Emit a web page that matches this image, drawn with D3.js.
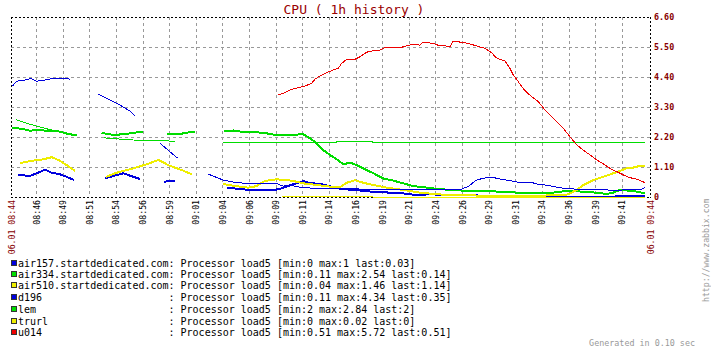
<!DOCTYPE html>
<html><head><meta charset="utf-8">
<script src="https://cdn.jsdelivr.net/npm/d3@7"></script>
<style>html,body{margin:0;padding:0;background:#fff;overflow:hidden}svg{display:block}</style>
</head><body><svg id="c" width="711" height="351"></svg>
<script>
// ---------- data (time = minutes after 08:44:19, null = gap in data) ----------
const seriesNames = ["air157.startdedicated.com","air334.startdedicated.com","air510.startdedicated.com","d196","lem","trurl","u014"];
const seriesItem = "Processor load5";
const seriesMin  = ["0","0.11","0.04","0.11","2","0","0.51"];
const seriesMax  = ["1","2.54","1.46","4.34","2.84","0.02","5.72"];
const seriesLast = ["0.03","0.14","1.14","0.35","2","0","0.51"];

const air157 = [
 [0.69,0.81],[1.78,0.77],[2.41,0.87],[3.19,1.00],[3.82,0.89],[4.60,0.83],[5.23,0.74],[5.92,0.62],
 null,
 [8.83,0.69],[9.61,0.77],[10.54,0.87],[11.48,0.74],[12.11,0.66],
 null,
 [14.39,0.56],[15.40,0.60],
 null,
 [20.25,0.33],[21.50,0.30],[22.44,0.25],[24.63,0.25],[25.26,0.30],[26.20,0.43],[27.14,0.55],[27.45,0.58],[28.08,0.51],[29.02,0.48],[29.95,0.39],[30.89,0.30],[32.14,0.26],[34.02,0.19],[35.59,0.16],[36.84,0.13],[38.09,0.07],[39.34,0.10],[40.91,0.07],[43.10,0.07],[44.98,0.03],[48.73,0.03],[51.24,0.01],[52.50,0],[55.93,0],[57.18,0.03],[58.12,0.04],[59.53,0.03]
];
const air334 = [
 [0.07,2.54],[0.54,2.52],[1.15,2.49],[1.78,2.43],[2.41,2.46],[3.35,2.43],[4.29,2.42],[4.91,2.36],[5.38,2.31],[6.17,2.26],
 null,
 [8.52,2.36],[8.99,2.31],[9.77,2.27],[10.54,2.31],[11.17,2.33],[11.80,2.37],[12.42,2.40],
 null,
 [14.62,2.31],[15.87,2.31],[16.50,2.36],[17.28,2.40],
 null,
 [20.00,2.40],[20.87,2.44],[21.50,2.40],[22.75,2.37],[23.69,2.36],[24.32,2.31],[24.95,2.27],[26.20,2.28],[27.45,2.30],[28.08,2.15],[28.70,1.97],[29.32,1.72],[29.95,1.54],[30.58,1.38],[31.20,1.20],[31.83,1.26],[32.46,1.17],[33.08,1.05],[34.02,0.87],[34.96,0.68],[35.90,0.60],[36.84,0.50],[37.77,0.40],[38.71,0.36],[39.97,0.30],[41.22,0.26],[43.10,0.22],[44.04,0.22],[44.98,0.21],[46.23,0.19],[47.48,0.16],[48.73,0.16],[49.67,0.13],[50.92,0.16],[51.86,0.21],[53.12,0.21],[54.06,0.18],[54.99,0.16],[55.93,0.11],[56.55,0.16],[57.18,0.26],[58.43,0.22],[59.53,0.14]
];
const air510 = [
 [0.85,1.24],[1.78,1.32],[3.03,1.38],[3.82,1.46],[4.44,1.36],[5.23,1.17],[6.01,0.96],
 null,
 [8.92,0.74],[9.92,0.89],[11.48,1.05],[12.74,1.20],[13.83,1.36],[14.93,1.14],[16.03,0.99],[16.97,0.83],
 null,
 [19.93,0.48],[20.56,0.43],[21.50,0.38],[22.28,0.34],[23.07,0.40],[23.69,0.56],[24.32,0.62],[24.95,0.65],[26.36,0.60],[27.45,0.50],[28.70,0.44],[29.95,0.38],[30.89,0.36],[31.52,0.52],[32.30,0.62],[33.08,0.52],[34.02,0.44],[35.28,0.34],[36.84,0.26],[38.56,0.15],[39.81,0.11],[40.75,0.08],[42.32,0.08],[43.88,0.05],[45.45,0.05],[48.73,0.05],[52.02,0.06],[52.49,0.13],[53.12,0.26],[53.74,0.44],[54.68,0.62],[55.62,0.74],[56.55,0.87],[57.18,0.96],[57.81,1.05],[58.43,1.08],[59.06,1.14],[59.53,1.14]
];
const d196 = [
 [0.16,4.07],[0.38,4.19],[0.69,4.26],[1.31,4.29],[1.78,4.34],[1.94,4.33],[2.35,4.25],[2.88,4.26],[3.50,4.32],[4.13,4.34],[5.23,4.34],[5.54,4.32],
 null,
 [8.20,3.77],[9.30,3.56],[10.23,3.37],[11.17,3.15],[11.64,2.98],
 null,
 [13.99,1.97],[14.74,1.72],[15.65,1.42],
 null,
 [18.53,0.84],[19.15,0.74],[19.93,0.62],[20.85,0.55],[21.50,0.52],[22.28,0.49],[24.98,0.49],[25.54,0.40],[26.20,0.43],[27.14,0.36],[29.02,0.30],[31.36,0.33],[33.87,0.26],[36.06,0.26],[37.62,0.27],[38.87,0.29],[40.12,0.28],[42.32,0.29],[42.94,0.39],[43.57,0.58],[43.88,0.64],[44.51,0.70],[45.45,0.70],[45.92,0.66],[46.85,0.60],[47.48,0.55],[48.10,0.52],[48.73,0.55],[49.36,0.48],[50.30,0.43],[51.24,0.36],[52.18,0.30],[53.12,0.29],[54.06,0.26],[54.99,0.28],[55.93,0.26],[56.87,0.23],[57.49,0.26],[58.75,0.27],[59.37,0.30],[59.53,0.35]
];
const lem = [
 [0.47,2.84],[1.47,2.70],[2.41,2.60],[3.35,2.50],[4.29,2.42],[5.23,2.33],[6.17,2.26],
 null,
 [8.76,2.17],[9.61,2.14],[11.48,2.09],[13.36,2.06],[15.40,2.05],
 null,
 [19.93,2.00],[30.52,2.00],[30.70,2.05],[33.87,2.05],[33.99,2.00],[59.53,2.00]
];
const trurl = [[25.45,0.02],[33.90,0.02],[33.99,0],[59.53,0]];
const u014 = [
 [25.10,3.74],[25.57,3.80],[26.04,3.90],[26.51,3.96],[27.14,4.02],[27.61,4.07],[28.23,4.17],[28.54,4.32],[29.01,4.44],[29.64,4.56],[30.26,4.66],[30.73,4.72],[31.05,4.90],[31.52,5.05],[32.30,5.05],[32.77,5.14],[33.40,5.31],[34.02,5.36],[34.65,5.39],[35.12,5.49],[36.69,5.49],[37.16,5.55],[37.77,5.60],[38.40,5.57],[38.66,5.66],[39.65,5.64],[40.12,5.56],[40.59,5.56],[41.22,5.51],[41.53,5.72],[42.16,5.68],[42.79,5.64],[43.10,5.61],[43.72,5.54],[44.51,5.45],[45.14,5.29],[45.54,5.11],[45.92,5.05],[46.38,4.99],[46.85,4.72],[47.16,4.47],[47.48,4.32],[47.79,4.14],[48.26,3.90],[48.57,3.78],[49.04,3.64],[49.51,3.50],[49.83,3.34],[50.14,3.19],[50.61,3.01],[51.24,2.77],[51.86,2.52],[52.49,2.21],[53.12,1.91],[53.74,1.72],[54.37,1.54],[54.99,1.36],[55.62,1.21],[56.24,1.05],[56.87,0.93],[57.49,0.81],[58.12,0.71],[58.75,0.65],[59.37,0.56],[59.53,0.51]
];

const yTickValues = [0,1.1,2.2,3.3,4.4,5.5,6.6];
const yTickLabels = ["0","1.10","2.20","3.30","4.40","5.50","6.60"];
const xTickLabels = ["08:46","08:49","08:51","08:54","08:56","08:59","09:01","09:04","09:06","09:09","09:11","09:14","09:16","09:19","09:21","09:24","09:26","09:29","09:31","09:34","09:36","09:39","09:41"];
const xFirstTick = 2.35, xTickStep = 2.5; // minutes
const startLabel = "06.01 08:44", endLabel = "06.01 09:44";
const titleText = "CPU ( 1h history )";

// ---------- styles ----------
const seriesData = [air157, air334, air510, d196, lem, trurl, u014];
const seriesColors = ["#0000dd","#00dd00","#eeee00","#0000dd","#00dd00","#eeee00","#ee0000"];
const seriesWidth = [2,2,2,1,1,1,1];
const MONO = "'DejaVu Sans Mono', 'Liberation Mono', monospace";
const DARKRED = "#880000";

const svg = d3.select("#c");
svg.append("rect").attr("width",711).attr("height",351).attr("fill","#fff");

const x = d3.scaleLinear().domain([0,60]).range([11,650]);
const y = d3.scaleLinear().domain([0,6.6]).range([197,17]);
const px = v => Math.round(v) + 0.5;

// grid
const g = svg.append("g").attr("shape-rendering","crispEdges");
yTickValues.slice(1,-1).forEach(v => {
  g.append("line").attr("x1",x(0)).attr("x2",x(60)).attr("y1",px(y(v))).attr("y2",px(y(v)))
   .attr("stroke","#999").attr("stroke-dasharray","3,3");
});
xTickLabels.forEach((l,i) => {
  const xv = px(x(xFirstTick + i*xTickStep));
  g.append("line").attr("x1",xv).attr("x2",xv).attr("y1",y(6.6)).attr("y2",y(0))
   .attr("stroke","#999").attr("stroke-dasharray","3,3");
});
// frame (dotted)
const fr = [[x(0),y(6.6),x(60),y(6.6)],[x(0),y(0),x(60),y(0)],[x(0),y(6.6),x(0),y(0)],[x(60),y(6.6),x(60),y(0)]];
fr.forEach(f => {
  const horiz = f[1]===f[3];
  g.append("line")
   .attr("x1",horiz?f[0]:px(f[0])).attr("x2",horiz?f[2]+1:px(f[2]))
   .attr("y1",horiz?px(f[1]):f[1]).attr("y2",horiz?px(f[3]):f[3]+1)
   .attr("stroke","#000").attr("stroke-dasharray","2,2");
});

// series lines
const line = d3.line().defined(d => d !== null).x(d => x(d[0])).y(d => y(d[1]));
seriesData.forEach((data,i) => {
  svg.append("path").datum(data).attr("d",line)
    .attr("fill","none").attr("stroke",seriesColors[i]).attr("stroke-width",seriesWidth[i])
    .attr("shape-rendering","crispEdges").attr("stroke-linejoin","round");
});

// title
svg.append("text").attr("x",354).attr("y",14).attr("text-anchor","middle")
  .attr("font-family",MONO).attr("font-size",13).attr("fill","#990000").text(titleText);

// y labels
yTickValues.forEach((v,i) => {
  svg.append("text").attr("x",654).attr("y",y(v)).attr("dominant-baseline","central")
    .attr("font-family",MONO).attr("font-size",8.4).attr("font-weight","bold").attr("fill",DARKRED)
    .text(yTickLabels[i]);
});

// x labels (rotated)
function vlabel(xpos, ypos, txt, color, anchor, size) {
  svg.append("text").attr("transform",`translate(${xpos},${ypos}) rotate(-90)`)
    .attr("text-anchor",anchor).attr("dominant-baseline","central")
    .attr("font-family",MONO).attr("font-size",size).attr("fill",color).text(txt);
}
xTickLabels.forEach((l,i) => vlabel(x(xFirstTick + i*xTickStep)+0.5, 200, l, "#000", "end", 8.2));
vlabel(x(0)+0.5, 200, startLabel, DARKRED, "end", 8.2);
vlabel(x(60)+0.5, 200, endLabel, DARKRED, "end", 8.2);
vlabel(706, 302, "http://www.zabbix.com", "#999", "start", 8.2);

// legend
const rowY = [263, 274, 285, 297, 309, 321, 332];
const padLen = d3.max(seriesNames, s => s.length);
seriesNames.forEach((n,i) => {
  svg.append("rect").attr("x",11.5).attr("y",rowY[i]-2.5).attr("width",5).attr("height",5)
    .attr("fill",seriesColors[i]).attr("stroke","#333").attr("stroke-width",1).attr("shape-rendering","crispEdges");
  const label = n.padEnd(padLen," ") + ": " + seriesItem + " [min:" + seriesMin[i] + " max:" + seriesMax[i] + " last:" + seriesLast[i] + "]";
  svg.append("text").attr("x",18).attr("y",rowY[i]).attr("dominant-baseline","central")
    .attr("font-family",MONO).attr("font-size",10).attr("fill","#000")
    .style("white-space","pre").text(label);
});

svg.append("text").attr("x",695).attr("y",346).attr("text-anchor","end")
  .attr("font-family",MONO).attr("font-size",8.4).attr("fill","#999").text("Generated in 0.10 sec");
</script></body></html>
